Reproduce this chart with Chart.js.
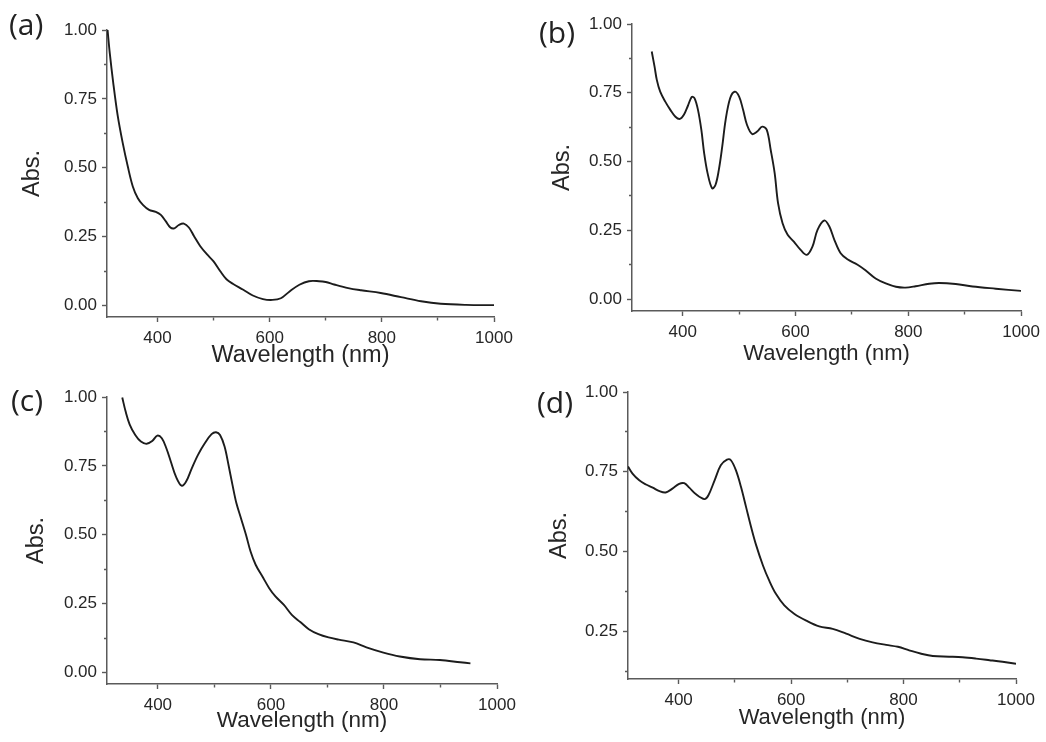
<!DOCTYPE html>
<html>
<head>
<meta charset="utf-8">
<script src="https://cdn.jsdelivr.net/npm/chart.js@4.4.0/dist/chart.umd.min.js"></script>
<style>
    html, body { margin: 0; padding: 0; background: #fff; }
    #page { position: relative; width: 1046px; height: 742px; overflow: hidden; }
    .panel { position: absolute; width: 523px; height: 371px; }
    .tag { position: absolute; font-family: "Open Sans", sans-serif; font-size: 30px; line-height: 1; color: #222; }
</style>
</head>
<body>
<div id="page">
    <div class="panel" style="left:0;top:0"><canvas id="chartA" width="523" height="371"></canvas></div>
    <div class="panel" style="left:523px;top:0"><canvas id="chartB" width="523" height="371"></canvas></div>
    <div class="panel" style="left:0;top:371px"><canvas id="chartC" width="523" height="371"></canvas></div>
    <div class="panel" style="left:523px;top:371px"><canvas id="chartD" width="523" height="371"></canvas></div>
    <div class="tag" style="left:9px;top:9px">(a)</div>
    <div class="tag" style="left:539px;top:17px">(b)</div>
    <div class="tag" style="left:11px;top:385px">(c)</div>
    <div class="tag" style="left:537px;top:387px">(d)</div>
</div>
<script>
// Spectra
const wavelengthA = [311, 315, 321, 329, 338, 347, 356, 365, 374, 385, 397, 406, 415, 423, 430, 438, 447, 456, 465, 476, 488, 500, 512, 523, 535, 553, 570, 588, 605, 620, 635, 653, 670, 688, 700, 715, 740, 763, 798, 834, 870, 905, 950, 1000];
const absA = [1.00, 0.915, 0.81, 0.69, 0.59, 0.505, 0.432, 0.389, 0.365, 0.347, 0.340, 0.329, 0.305, 0.283, 0.280, 0.292, 0.297, 0.283, 0.252, 0.216, 0.186, 0.160, 0.124, 0.095, 0.078, 0.057, 0.036, 0.023, 0.020, 0.026, 0.050, 0.075, 0.088, 0.088, 0.085, 0.076, 0.063, 0.055, 0.045, 0.030, 0.015, 0.006, 0.002, 0.001];

const wavelengthB = [345, 350, 354, 360, 369, 378, 387, 395, 402, 409, 416, 421, 427, 433, 438, 444, 452, 458, 464, 470, 476, 484, 492, 500, 507, 514, 523, 532, 541, 549, 556, 563, 569, 577, 586, 597, 609, 620, 630, 639, 651, 660, 669, 680, 692, 710, 724, 742, 760, 778, 795, 813, 837, 855, 884, 914, 955, 1000];
const absB = [0.900, 0.845, 0.797, 0.754, 0.718, 0.688, 0.663, 0.655, 0.670, 0.702, 0.735, 0.730, 0.688, 0.615, 0.530, 0.458, 0.403, 0.415, 0.470, 0.554, 0.651, 0.730, 0.754, 0.736, 0.688, 0.633, 0.600, 0.609, 0.627, 0.615, 0.542, 0.458, 0.349, 0.276, 0.234, 0.209, 0.179, 0.161, 0.191, 0.252, 0.286, 0.264, 0.215, 0.167, 0.145, 0.125, 0.105, 0.075, 0.057, 0.045, 0.042, 0.047, 0.056, 0.059, 0.055, 0.046, 0.038, 0.030];

const wavelengthC = [337, 343, 350, 360, 370, 380, 390, 399, 407, 415, 423, 432, 442, 450, 460, 471, 483, 495, 503, 510, 518, 525, 532, 539, 547, 556, 564, 573, 585, 597, 608, 623, 637, 652, 667, 684, 702, 720, 746, 769, 799, 828, 864, 899, 935, 953];
const absC = [0.998, 0.947, 0.901, 0.862, 0.838, 0.830, 0.840, 0.860, 0.850, 0.814, 0.765, 0.711, 0.678, 0.693, 0.741, 0.790, 0.832, 0.865, 0.872, 0.862, 0.820, 0.753, 0.681, 0.614, 0.560, 0.499, 0.439, 0.391, 0.348, 0.306, 0.276, 0.245, 0.209, 0.183, 0.157, 0.139, 0.127, 0.119, 0.109, 0.091, 0.072, 0.058, 0.048, 0.045, 0.037, 0.033];

const wavelengthD = [310, 318, 330, 342, 354, 366, 377, 389, 401, 410, 419, 431, 446, 453, 464, 475, 486, 493, 502, 511, 520, 529, 538, 550, 561, 573, 588, 606, 627, 650, 674, 698, 722, 745, 769, 790, 810, 830, 852, 881, 905, 929, 953, 976, 1000];
const absD = [0.766, 0.744, 0.723, 0.710, 0.700, 0.689, 0.685, 0.697, 0.712, 0.714, 0.700, 0.679, 0.664, 0.676, 0.723, 0.770, 0.788, 0.786, 0.754, 0.702, 0.639, 0.576, 0.519, 0.456, 0.409, 0.367, 0.331, 0.304, 0.283, 0.265, 0.257, 0.242, 0.226, 0.215, 0.207, 0.201, 0.190, 0.180, 0.172, 0.170, 0.168, 0.164, 0.159, 0.154, 0.148];

// Axis ticks (majors get labels, the rest are minor marks)
const xTicks = [400, 500, 600, 700, 800, 900, 1000];
const xMajor = [400, 600, 800, 1000];
const yTicks = [0, 0.125, 0.25, 0.375, 0.5, 0.625, 0.75, 0.875, 1.0];
const yMajor = [0, 0.25, 0.5, 0.75, 1.0];

const xTitle = 'Wavelength (nm)';
const yTitle = 'Abs.';

Chart.defaults.font.family = '"Liberation Sans", Arial, sans-serif';
Chart.defaults.color = '#262626';

const axisColor = '#5a5a5a';

// frame of each panel inside its 523x371 canvas
const frames = {
    chartA: { left: 107, right: 29, top: 30, xHeight: 54, yMin: -0.042, yTitlePad: 18, xTitlePad: 1, xTitleSize: 23.5 },
    chartB: { left: 109, right: 24, top: 24, xHeight: 60, yMin: -0.043, yTitlePad: 25, xTitlePad: 4, xTitleSize: 22 },
    chartC: { left: 107, right: 26, top: 26, xHeight: 58, yMin: -0.042, yTitlePad: 22, xTitlePad: 8, xTitleSize: 22.5 },
    chartD: { left: 105, right: 30, top: 21, xHeight: 63, yMin: 0.10, yTitlePad: 22, xTitlePad: 11, xTitleSize: 22 }
};

function isMajor(list, v) {
    return list.some(m => Math.abs(m - v) < 1e-6);
}

function makePanel(id, wavelengths, values) {
    const f = frames[id];
    const points = wavelengths.map((w, i) => ({ x: w, y: values[i] }));

    new Chart(document.getElementById(id), {
        type: 'line',
        data: {
            datasets: [{
                data: points,
                borderColor: '#1c1c1c',
                borderWidth: 1.9,
                pointRadius: 0,
                fill: false,
                tension: 0.35
            }]
        },
        options: {
            responsive: false,
            animation: false,
            layout: { padding: { left: 0, right: f.right, top: f.top, bottom: 0 } },
            plugins: { legend: { display: false }, tooltip: { enabled: false } },
            scales: {
                x: {
                    type: 'linear',
                    min: 310,
                    max: 1000,
                    afterBuildTicks: (scale) => {
                        scale.ticks = xTicks.map(v => ({ value: v }));
                    },
                    afterFit: (scale) => { scale.height = f.xHeight; },
                    border: { display: true, color: axisColor, width: 1.5 },
                    grid: {
                        display: true,
                        drawOnChartArea: false,
                        drawTicks: true,
                        tickLength: 5,
                        tickColor: axisColor,
                        tickWidth: 1.4,
                        // minor marks: only the 3px next to the axis
                        tickBorderDash: (ctx) => isMajor(xMajor, ctx.tick.value) ? [] : [3, 100]
                    },
                    ticks: {
                        padding: 6,
                        font: { size: 17 },
                        maxRotation: 0,
                        autoSkip: false,
                        callback: (v) => isMajor(xMajor, v) ? String(v) : ''
                    },
                    title: {
                        display: true,
                        text: xTitle,
                        font: { size: f.xTitleSize },
                        padding: { top: 0, bottom: f.xTitlePad }
                    }
                },
                y: {
                    type: 'linear',
                    min: f.yMin,
                    max: 1.0,
                    afterBuildTicks: (scale) => {
                        scale.ticks = yTicks.filter(v => v >= f.yMin).map(v => ({ value: v }));
                    },
                    afterFit: (scale) => { scale.width = f.left; },
                    border: { display: true, color: axisColor, width: 1.5 },
                    grid: {
                        display: true,
                        drawOnChartArea: false,
                        drawTicks: true,
                        tickLength: 5,
                        tickColor: axisColor,
                        tickWidth: 1.4,
                        // tick is drawn from the outer end toward the axis
                        tickBorderDash: (ctx) => isMajor(yMajor, ctx.tick.value) ? [] : [0, 2, 3, 100]
                    },
                    ticks: {
                        padding: 5,
                        font: { size: 17 },
                        autoSkip: false,
                        callback: (v) => isMajor(yMajor, v) ? v.toFixed(2) : ''
                    },
                    title: {
                        display: true,
                        text: yTitle,
                        font: { size: 23.5 },
                        padding: { top: f.yTitlePad, bottom: 0 }
                    }
                }
            }
        }
    });
}

makePanel('chartA', wavelengthA, absA);
makePanel('chartB', wavelengthB, absB);
makePanel('chartC', wavelengthC, absC);
makePanel('chartD', wavelengthD, absD);
</script>
</body>
</html>
